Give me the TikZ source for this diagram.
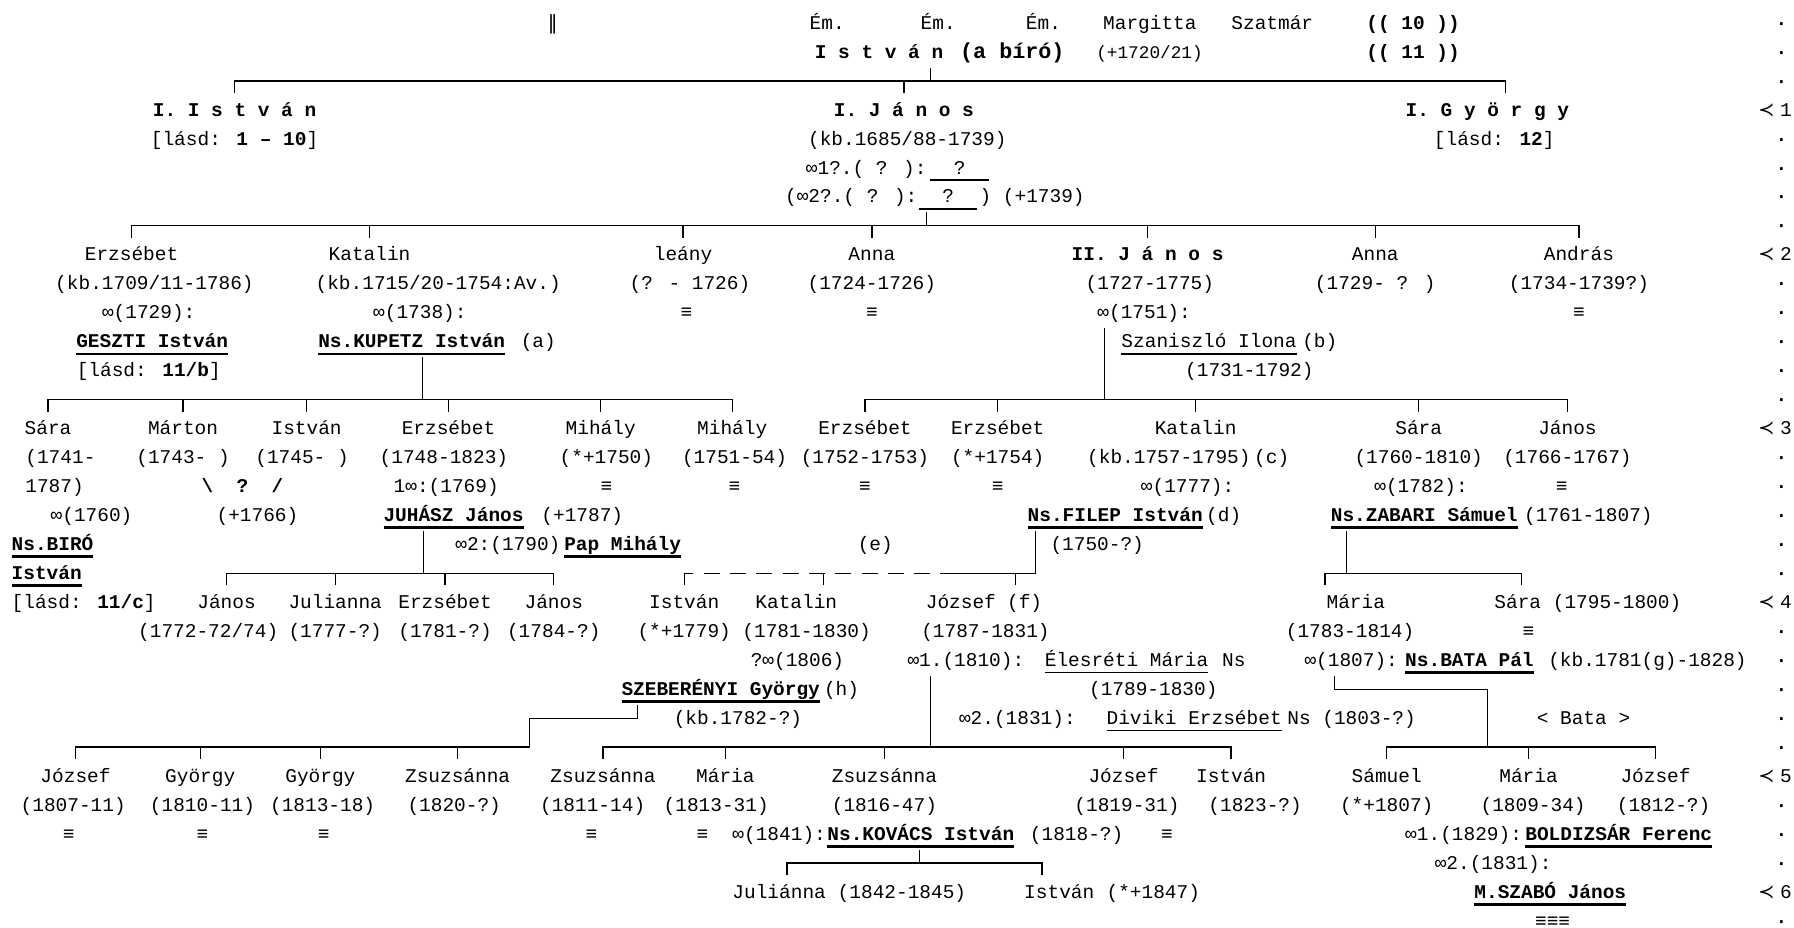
\documentclass[tikz,border=0pt]{standalone}
\usepackage{fontspec}
\newfontfamily\chartfont{Liberation Mono}
\newfontfamily\symfont{DejaVu Sans}
\newcommand\ulb[1]{{\setbox0=\hbox{\bfseries #1}\rlap{\rule[-6.5pt]{\wd0}{2.4pt}}\box0}}
\newcommand\ulr[1]{{\setbox0=\hbox{#1}\rlap{\rule[-6pt]{\wd0}{1.4pt}}\box0}}
\tikzset{
  every node/.style={
    font=\chartfont\fontsize{17}{20}\selectfont,
    inner xsep=0pt, inner ysep=8pt,
    text height=12pt, text depth=0pt
  },
  atc/.style={anchor=base, yshift=-5.5pt},
  atw/.style={anchor=base west, yshift=-5.5pt},
  ate/.style={anchor=base east, yshift=-5.5pt},
  famline/.style={line width=1.2pt},
  stemline/.style={line width=1pt},
  lostline/.style={famline, dash pattern=on 14pt off 9pt}
}

\begin{document}
\begin{tikzpicture}[x=1pt, y=-25.32pt]
\fill[white] (0,-0.79) rectangle (1568,31.24);
\useasboundingbox (0,-0.79) rectangle (1568,31.24);

% generation 0
\node[atc] (dbl) at (483,0) {\symfont ‖};
\node[atc] (em1) at (723,0) {Ém.};
\node[atc] (em2) at (820,0) {Ém.};
\node[atc] (em3) at (912,0) {Ém.};
\node[atc] (margitta) at (1005,0) {Margitta};
\node[atc] (szatmar) at (1112,0) {Szatmár};
\node[atc] (ref10) at (1235,0) {\bfseries(( 10 ))};
\node[atw] (istvan0) at (712,1) {\bfseries I s t v á n};
\node[atw] (abiro) at (839,1) {\fontsize{19}{20}\selectfont\bfseries(a bíró)};
\node[atw] (istvan0d) at (958,1) {\fontsize{15.5}{20}\selectfont(+1720/21)};
\node[atc] (ref11) at (1235,1) {\bfseries(( 11 ))};

% generation 1
\node[atc] (istvanI) at (205,3) {\bfseries I. I s t v á n};
\node[atc] (janosI) at (790,3) {\bfseries I. J á n o s};
\node[atc] (gyorgyI) at (1300,3) {\bfseries I. G y ö r g y};
\node[atc] (istvanIref) at (205,4) {[lásd: \textbf{1 – 10}]};
\node[atc] (janosId) at (793,4) {(kb.1685/88-1739)};
\node[atc] (gyorgyIref) at (1306,4) {[lásd: \textbf{12}]};
\node[ate] (wed1) at (810,5) {∞1?.( ? ):};
\node[atw] (wife1) at (813,5) {\ulr{\hphantom{00}?\hphantom{00}}};
\node[ate] (wed2) at (802,6) {(∞2?.( ? ):};
\node[atw] (wife2) at (803,6) {\ulr{\hphantom{00}?\hphantom{00}}};
\node[atw] (wife2d) at (856,6) {) (+1739)};

\coordinate (f1) at (813,2);
\draw[stemline] (istvan0.south -| f1) -- (f1);
\draw[famline] (istvanI.north) -- (istvanI.north |- f1) -- ([xshift=16pt]gyorgyI.north |- f1) -- ([xshift=16pt]gyorgyI.north);
\draw[famline] (janosI.north) -- (janosI.north |- f1);

% generation 2
\node[atc] (erzsA) at (115,8) {Erzsébet};
\node[atc] (katA) at (323,8) {Katalin};
\node[atc] (leany) at (597,8) {leány};
\node[atc] (annaA) at (762,8) {Anna};
\node[atc] (janosII) at (1003,8) {\bfseries II. J á n o s};
\node[atc] (annaB) at (1202,8) {Anna};
\node[atc] (andras) at (1380,8) {András};
\node[atc] (erzsAd) at (135,9) {(kb.1709/11-1786)};
\node[atc] (katAd) at (383,9) {(kb.1715/20-1754:Av.)};
\node[atc] (leanyd) at (603,9) {(? - 1726)};
\node[atc] (annaAd) at (762,9) {(1724-1726)};
\node[atc] (janosIId) at (1005,9) {(1727-1775)};
\node[atc] (annaBd) at (1202,9) {(1729- ? )};
\node[atc] (andrasd) at (1380,9) {(1734-1739?)};
\node[atc] (wed1729) at (130,10) {∞(1729):};
\node[atc] (wed1738) at (367,10) {∞(1738):};
\node[atc] (wed1751) at (1000,10) {∞(1751):};
\foreach \x/\n in {600/eqLeany,762/eqAnnaA,1380/eqAndras}
  \node[atc] (\n) at (\x,10) {≡};
\node[atc] (geszti) at (133,11) {\ulb{GESZTI István}};
\node[atw] (kupetz) at (278,11) {\ulb{Ns.KUPETZ István}};
\node[atw] (kupetzN) at (455,11) {(a)};
\node[atw] (szaniszlo) at (980,11) {\ulr{Szaniszló Ilona}};
\node[atw] (szaniszloN) at (1138,11) {(b)};
\node[atc] (gesztiRef) at (130,12) {[lásd: \textbf{11/b}]};
\node[atc] (szaniszlod) at (1092,12) {(1731-1792)};

\coordinate (f2) at (810,7);
\draw[stemline] (wife2d.south -| f2) -- (f2);
\draw[famline] (erzsA.north) -- (erzsA.north |- f2) -- (andras.north |- f2) -- (andras.north);
\foreach \n in {katA,leany,annaA,janosII,annaB}
  \draw[famline] (\n.north) -- (\n.north |- f2);

% generation 3
\node[atc] (saraA) at (42,14) {Sára};
\node[atc] (marton) at (160,14) {Márton};
\node[atc] (istvanA) at (268,14) {István};
\node[atc] (erzsB) at (392,14) {Erzsébet};
\node[atc] (mihalyA) at (525,14) {Mihály};
\node[atc] (mihalyB) at (640,14) {Mihály};
\node[atc] (erzsC) at (756,14) {Erzsébet};
\node[atc] (erzsD) at (872,14) {Erzsébet};
\node[atc] (katB) at (1045,14) {Katalin};
\node[atc] (saraB) at (1240,14) {Sára};
\node[atc] (janosB) at (1370,14) {János};
\node[atw] (saraAd) at (22,15) {(1741-};
\node[atc] (martond) at (160,15) {(1743- )};
\node[atc] (istvanAd) at (264,15) {(1745- )};
\node[atc] (erzsBd) at (388,15) {(1748-1823)};
\node[atc] (mihalyAd) at (530,15) {(*+1750)};
\node[atc] (mihalyBd) at (642,15) {(1751-54)};
\node[atc] (erzsCd) at (756,15) {(1752-1753)};
\node[atc] (erzsDd) at (872,15) {(*+1754)};
\node[atw] (katBd) at (950,15) {(kb.1757-1795)};
\node[atw] (katBn) at (1096,15) {(c)};
\node[atc] (saraBd) at (1240,15) {(1760-1810)};
\node[atc] (janosBd) at (1370,15) {(1766-1767)};
\node[atw] (saraAd2) at (22,16) {1787)};
\node[atc] (unknownM) at (212,16) {\bfseries\textbackslash\hphantom{00}?\hphantom{00}/};
\node[atc] (wed1769) at (390,16) {1∞:(1769)};
\node[atc] (wed1777) at (1038,16) {∞(1777):};
\node[atc] (wed1782) at (1242,16) {∞(1782):};
\foreach \x/\n in {530/eqMihalyA,642/eqMihalyB,756/eqErzsC,872/eqErzsD,1365/eqJanosB}
  \node[atc] (\n) at (\x,16) {≡};
\node[atc] (wed1760) at (80,17) {∞(1760)};
\node[atc] (martonD) at (225,17) {(+1766)};
\node[atw] (juhasz) at (335,17) {\ulb{JUHÁSZ János}};
\node[atw] (juhaszd) at (473,17) {(+1787)};
\node[atw] (filep) at (898,17) {\ulb{Ns.FILEP István}};
\node[atw] (filepN) at (1054,17) {(d)};
\node[atw] (zabari) at (1163,17) {\ulb{Ns.ZABARI Sámuel}};
\node[atw] (zabarid) at (1332,17) {(1761-1807)};
\node[atw] (biroA) at (10,18) {\ulb{Ns.BIRÓ}};
\node[ate] (wed1790) at (490,18) {∞2:(1790)};
\node[atw] (pap) at (493,18) {\ulb{Pap Mihály}};
\node[atc] (noteE) at (765,18) {(e)};
\node[atw] (filepd) at (918,18) {(1750-?)};
\node[atw] (biroB) at (10,19) {\ulb{István}};
\node[atw] (biroRef) at (10,20) {[lásd: \textbf{11/c}]};

\coordinate (fK) at (369,13);
\draw[stemline] (kupetz.south -| fK) -- (fK);
\draw[famline] (saraA.north) -- (saraA.north |- fK) -- (mihalyB.north |- fK) -- (mihalyB.north);
\foreach \n in {marton,istvanA,erzsB,mihalyA}
  \draw[famline] (\n.north) -- (\n.north |- fK);
\coordinate (fJ) at (965,13);
\draw[stemline] (wed1751.south -| fJ) -- (fJ);
\draw[famline] (erzsC.north) -- (erzsC.north |- fJ) -- (janosB.north |- fJ) -- (janosB.north);
\foreach \n in {erzsD,katB,saraB}
  \draw[famline] (\n.north) -- (\n.north |- fJ);

% generation 4
\node[atc] (janosC) at (198,20) {János};
\node[atc] (julianna) at (293,20) {Julianna};
\node[atc] (erzsE) at (389,20) {Erzsébet};
\node[atc] (janosD) at (484,20) {János};
\node[atc] (istvanF) at (598,20) {István};
\node[atc] (katF) at (696,20) {Katalin};
\node[atw] (josefF) at (809,20) {József};
\node[atw] (josefFn) at (880,20) {(f)};
\node[atc] (mariaZ) at (1185,20) {Mária};
\node[atw] (saraZ) at (1306,20) {Sára};
\node[atw] (saraZd) at (1357,20) {(1795-1800)};
\node[atc] (janosCd) at (182,21) {(1772-72/74)};
\node[atc] (juliannad) at (293,21) {(1777-?)};
\node[atc] (erzsEd) at (389,21) {(1781-?)};
\node[atc] (janosDd) at (484,21) {(1784-?)};
\node[atc] (istvanFd) at (598,21) {(*+1779)};
\node[atc] (katFd) at (705,21) {(1781-1830)};
\node[atw] (josefFd) at (805,21) {(1787-1831)};
\node[atc] (mariaZd) at (1180,21) {(1783-1814)};
\node[atc] (eqSaraZ) at (1336,21) {≡};
\node[atc] (wed1806) at (697,22) {?∞(1806)};
\node[atw] (wed1810) at (793,22) {∞1.(1810):};
\node[atw] (elesreti) at (913,22) {\ulr{Élesréti Mária}};
\node[atw] (elesretiN) at (1068,22) {Ns};
\node[atw] (wed1807) at (1140,22) {∞(1807):};
\node[atw] (bata) at (1228,22) {\ulb{Ns.BATA Pál}};
\node[atw] (batad) at (1353,22) {(kb.1781(g)-1828)};
\node[atw] (szeb) at (543,23) {\ulb{SZEBERÉNYI György}};
\node[atw] (szebN) at (720,23) {(h)};
\node[atc] (elesretid) at (1008,23) {(1789-1830)};
\node[atc] (szebd) at (645,24) {(kb.1782-?)};
\node[atw] (wed1831a) at (838,24) {∞2.(1831):};
\node[atw] (diviki) at (967,24) {\ulr{Diviki Erzsébet}};
\node[atw] (divikid) at (1125,24) {Ns (1803-?)};
\node[atc] (bataLabel) at (1384,24) {< Bata >};

\coordinate (fH) at (370,19);
\draw[stemline] (juhasz.south -| fH) -- (fH);
\draw[famline] (janosC.north) -- (janosC.north |- fH) -- (janosD.north |- fH) -- (janosD.north);
\foreach \n in {julianna,erzsE}
  \draw[famline] (\n.north) -- (\n.north |- fH);
\coordinate (fF) at (905,19);
\coordinate (fFd) at (836,19);
\draw[famline] (filep.south -| fF) -- (fF) -- (fFd);
\draw[lostline] (fFd) -- (istvanF.north |- fF);
\draw[famline] (istvanF.north) -- (istvanF.north |- fF);
\draw[famline] ([xshift=24pt]katF.north) -- ([xshift=24pt]katF.north |- fF);
\draw[famline] ([xshift=48pt]josefF.north) -- ([xshift=48pt]josefF.north |- fF);
\coordinate (fZ) at (1177,19);
\draw[stemline] (zabari.south -| fZ) -- (fZ);
\draw[famline] ([xshift=-27pt]mariaZ.north) -- ([xshift=-27pt]mariaZ.north |- fZ) -- ([xshift=3pt]saraZ.north |- fZ) -- ([xshift=3pt]saraZ.north);

% generation 5
\node[atc] (josefS) at (66,26) {József};
\node[atc] (gyorgyS) at (175,26) {György};
\node[atc] (gyorgyT) at (280,26) {György};
\node[atc] (zsuzsS) at (400,26) {Zsuzsánna};
\node[atc] (zsuzsF) at (527,26) {Zsuzsánna};
\node[atc] (mariaF) at (634,26) {Mária};
\node[atc] (zsuzsG) at (773,26) {Zsuzsánna};
\node[atc] (josefG) at (982,26) {József};
\node[atc] (istvanG) at (1076,26) {István};
\node[atc] (samuel) at (1212,26) {Sámuel};
\node[atc] (mariaB) at (1336,26) {Mária};
\node[atc] (josefB) at (1447,26) {József};
\node[atc] (josefSd) at (64,27) {(1807-11)};
\node[atc] (gyorgySd) at (177,27) {(1810-11)};
\node[atc] (gyorgyTd) at (282,27) {(1813-18)};
\node[atc] (zsuzsSd) at (397,27) {(1820-?)};
\node[atc] (zsuzsFd) at (518,27) {(1811-14)};
\node[atc] (mariaFd) at (626,27) {(1813-31)};
\node[atc] (zsuzsGd) at (773,27) {(1816-47)};
\node[atc] (josefGd) at (985,27) {(1819-31)};
\node[atc] (istvanGd) at (1097,27) {(1823-?)};
\node[atc] (samueld) at (1212,27) {(*+1807)};
\node[atc] (mariaBd) at (1340,27) {(1809-34)};
\node[atc] (josefBd) at (1454,27) {(1812-?)};
\foreach \x/\n in {60/eqJosefS,177/eqGyorgyS,283/eqGyorgyT,517/eqZsuzsF,614/eqMariaF,1020/eqKovacs}
  \node[atc] (\n) at (\x,28) {≡};
\node[atw] (wed1841) at (640,28) {∞(1841):};
\node[atw] (kovacs) at (723,28) {\ulb{Ns.KOVÁCS István}};
\node[atw] (kovacsd) at (900,28) {(1818-?)};
\node[atw] (wed1829) at (1228,28) {∞1.(1829):};
\node[atw] (boldizsar) at (1333,28) {\ulb{BOLDIZSÁR Ferenc}};
\node[atc] (wed1831b) at (1305,29) {∞2.(1831):};

\coordinate (fSb) at (557,24);
\coordinate (fS) at (463,25);
\draw[stemline] (szeb.south -| fSb) -- (fSb) -| (fS);
\draw[famline] (josefS.north) -- (josefS.north |- fS) -- (fS);
\foreach \n in {gyorgyS,gyorgyT,zsuzsS}
  \draw[famline] (\n.north) -- (\n.north |- fS);
\coordinate (fG) at (813,25);
\draw[stemline] (wed1810.south -| fG) -- (fG);
\draw[famline] (zsuzsF.north) -- (zsuzsF.north |- fG) -- (istvanG.north |- fG) -- (istvanG.north);
\foreach \n in {mariaF,zsuzsG,josefG}
  \draw[famline] (\n.north) -- (\n.north |- fG);
\coordinate (fBa) at (1166,23);
\coordinate (fBb) at (1300,23);
\coordinate (fB) at (1300,25);
\draw[stemline] (wed1807.south -| fBa) -- (fBa) -- (fBb) -- (fB);
\draw[famline] (samuel.north) -- (samuel.north |- fB) -- (josefB.north |- fB) -- (josefB.north);
\draw[famline] (mariaB.north) -- (mariaB.north |- fB);

% generation 6
\node[atw] (julianna6) at (640,30) {Juliánna};
\node[atw] (julianna6d) at (732,30) {(1842-1845)};
\node[atw] (istvanK) at (895,30) {István};
\node[atw] (istvanKd) at (967,30) {(*+1847)};
\node[atc] (szabo) at (1355,30) {\ulb{M.SZABÓ János}};
\node[atc] (eqSzabo) at (1357,31) {≡≡≡};

\coordinate (fV) at (804,29);
\draw[stemline] (kovacs.south -| fV) -- (fV);
\draw[famline] ([xshift=7pt]julianna6.north) -- ([xshift=7pt]julianna6.north |- fV) -- ([xshift=-15pt]istvanK.north |- fV) -- ([xshift=-15pt]istvanK.north);

% generation column
\foreach \L in {0,1,2,4,5,6,7,9,10,11,12,13,15,16,17,18,19,21,22,23,24,25,27,28,29,31}
  \node[atc] (dot\L) at (1557,\L) {\textbf{·}};
\foreach \L/\g in {3/1,8/2,14/3,20/4,26/5,30/6}{
  \node[atc] (genmark\g) at (1544,\L) {\symfont ≺};
  \node[atc] (gen\g) at (1561,\L) {\g};
}

\end{tikzpicture}
\end{document}
